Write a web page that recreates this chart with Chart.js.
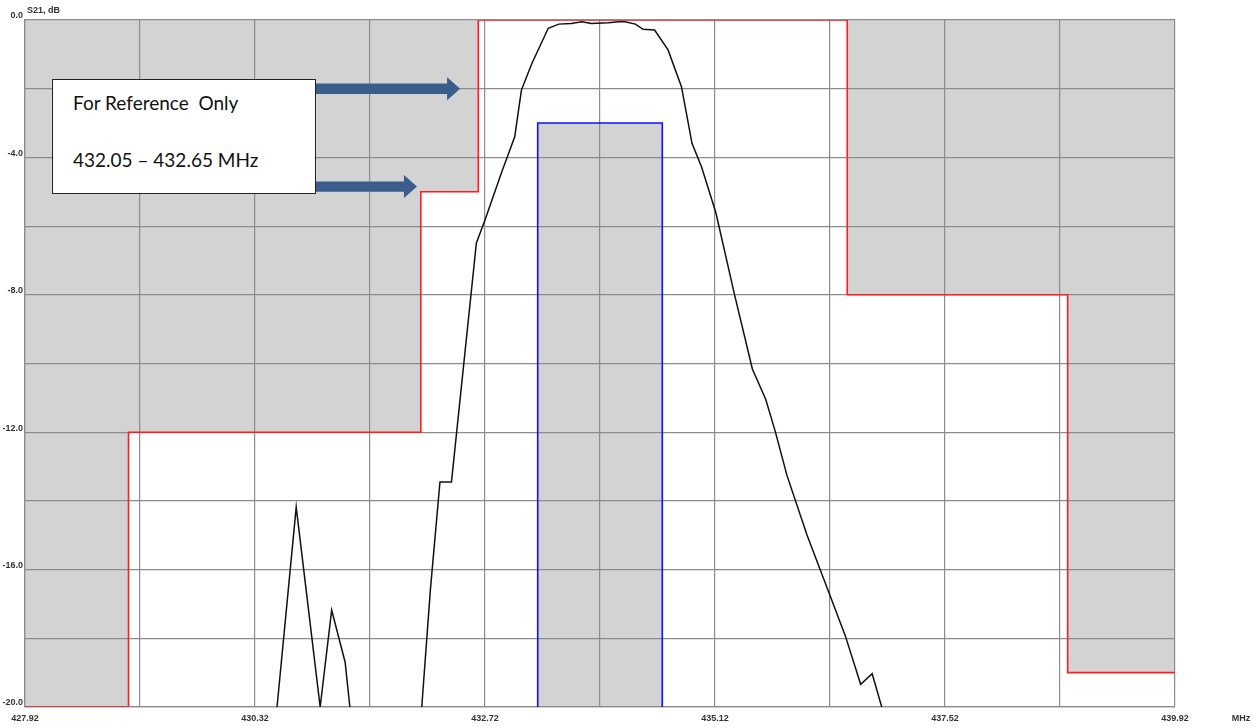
<!DOCTYPE html>
<html>
<head>
<meta charset="utf-8">
<script src="https://cdn.jsdelivr.net/npm/chart.js@4/dist/chart.umd.min.js"></script>
<style>
  html, body { margin: 0; padding: 0; background: #ffffff; }
  #wrap { position: relative; width: 1257px; height: 728px; background: #ffffff; }
  canvas { position: absolute; left: 0; top: 0; }
  #note {
    position: absolute; left: 52px; top: 79px; width: 262px; height: 113px;
    background: #ffffff; border: 1px solid #222; box-sizing: content-box;
    font-family: Lato, "Open Sans", sans-serif; font-size: 19px; color: #111;
  }
  #note .l1 { position: absolute; left: 20px; top: 11px; white-space: pre; }
  #note .l2 { position: absolute; left: 20px; top: 68px; white-space: pre; }
</style>
</head>
<body>
<div id="wrap">
  <canvas id="c" width="1257" height="728"></canvas>
  <div id="note"><span class="l1">For Reference  Only</span><span class="l2">432.05 – 432.65 MHz</span></div>
</div>
<script>
// ---- data ----
const xTicks = [427.92, 429.12, 430.32, 431.52, 432.72, 433.92, 435.12, 436.32, 437.52, 438.72, 439.92];
const xTickLabels = ['427.92', '', '430.32', '', '432.72', '', '435.12', '', '437.52', '', '439.92'];
const yTicks = [0, -2, -4, -6, -8, -10, -12, -14, -16, -18, -20];
const yTickLabels = ['0.0', '', '-4.0', '', '-8.0', '', '-12.0', '', '-16.0', '', '-20.0'];

// measured S21 response (MHz, dB); null = break (below chart floor)
const curveFreq = [430.55, 430.75, 431.00, 431.12, 431.26, 431.31, 431.80,
  432.06, 432.15, 432.25, 432.37, 432.63, 432.72, 432.89, 433.03, 433.10, 433.21, 433.38, 433.49,
  433.62, 433.73, 433.83, 434.01, 434.11, 434.18, 434.29, 434.37, 434.49, 434.63, 434.77, 434.88,
  434.98, 435.13, 435.32, 435.51, 435.65, 435.75, 435.87, 436.08, 436.34, 436.48, 436.64, 436.76, 436.86];
const curveDb = [-20, -14.18, -20, -17.18, -18.69, -20, null,
  -20, -16.59, -13.45, -13.45, -6.49, -5.82, -4.46, -3.40, -2.04, -1.26, -0.24, -0.12,
  -0.10, -0.05, -0.10, -0.08, -0.05, -0.05, -0.12, -0.27, -0.29, -0.87, -1.94, -3.59,
  -4.28, -5.62, -7.95, -10.16, -11.05, -11.99, -13.25, -14.99, -16.90, -17.93, -19.34, -19.03, -20];

// rejection mask (upper limit)
const limitFreq = [427.92, 429.0, 429.0, 432.05, 432.05, 432.65, 432.65, 436.5, 436.5, 438.8, 438.8, 439.92];
const limitDb = [-20, -20, -12, -12, -5, -5, 0, 0, -8, -8, -19, -19];

// passband requirement box
const boxFreq = [433.27, 433.27, 434.57, 434.57];
const boxDb = [-20, -3, -3, -20];

const zip = (xs, ys) => xs.map((x, i) => ({ x: x, y: ys[i] }));

const GRAY = '#d3d3d3';
const GRID = '#8c8c8c';
const TICKFONT = { family: '"Liberation Sans", Arial, sans-serif', size: 9, weight: 'bold' };

const extras = {
  id: 'extras',
  afterDraw(chart) {
    const ctx = chart.ctx;
    const xs = chart.scales.x, ys = chart.scales.y;
    ctx.save();
    // axis captions
    ctx.fillStyle = '#333';
    ctx.font = 'bold 9px "Liberation Sans", Arial, sans-serif';
    ctx.textBaseline = 'middle';
    ctx.textAlign = 'left';
    ctx.fillText('S21, dB', 27, 11);
    ctx.textAlign = 'center';
    ctx.fillText('MHz', 1241, 719);
    // block arrows
    const arrow = (x0, tipMHz, db) => {
      const tip = xs.getPixelForValue(tipMHz);
      const y = ys.getPixelForValue(db);
      const headLen = 13, headH = 11.5, shaftH = 5.2;
      ctx.beginPath();
      ctx.moveTo(x0, y - shaftH);
      ctx.lineTo(tip - headLen, y - shaftH);
      ctx.lineTo(tip - headLen, y - headH);
      ctx.lineTo(tip, y);
      ctx.lineTo(tip - headLen, y + headH);
      ctx.lineTo(tip - headLen, y + shaftH);
      ctx.lineTo(x0, y + shaftH);
      ctx.closePath();
      ctx.fillStyle = '#3a5d8b';
      ctx.fill();
    };
    arrow(300, 432.46, -2.0);
    arrow(300, 432.01, -4.85);
    ctx.restore();
  }
};

new Chart(document.getElementById('c'), {
  type: 'line',
  data: {
    datasets: [
      { label: 'S21', data: zip(curveFreq, curveDb), borderColor: '#111', borderWidth: 1.5,
        pointRadius: 0, fill: false, spanGaps: false, tension: 0, order: 0 },
      { label: 'Mask', data: zip(limitFreq, limitDb), borderColor: '#ff1e1e', borderWidth: 1.6,
        pointRadius: 0, fill: 'end', backgroundColor: GRAY, tension: 0, order: 1 },
      { label: 'Passband', data: zip(boxFreq, boxDb), borderColor: '#1010ff', borderWidth: 1.6,
        pointRadius: 0, fill: 'start', backgroundColor: GRAY, tension: 0, order: 2 }
    ]
  },
  options: {
    responsive: false,
    animation: false,
    layout: { padding: { top: 20, right: 82, left: 0, bottom: 0 } },
    plugins: {
      legend: { display: false },
      tooltip: { enabled: false },
      filler: { drawTime: 'beforeDraw' }
    },
    scales: {
      x: {
        type: 'linear', min: 427.92, max: 439.92,
        afterBuildTicks: s => { s.ticks = xTicks.map(v => ({ value: v })); },
        afterFit: s => { s.height = 21; },
        ticks: { callback: (v, i) => xTickLabels[i], font: TICKFONT, color: '#333',
          padding: 6, maxRotation: 0, autoSkip: false },
        grid: { color: GRID, lineWidth: 1.2, drawTicks: false },
        border: { color: GRID, width: 1.2 }
      },
      y: {
        type: 'linear', min: -20, max: 0,
        afterBuildTicks: s => { s.ticks = yTicks.map(v => ({ value: v })); },
        afterFit: s => { s.width = 25; },
        ticks: { callback: (v, i) => yTickLabels[i], font: TICKFONT, color: '#333',
          padding: 2, labelOffset: -4, autoSkip: false },
        grid: { color: GRID, lineWidth: 1.2, drawTicks: false },
        border: { color: GRID, width: 1.2 }
      }
    }
  },
  plugins: [extras]
});
</script>
</body>
</html>
